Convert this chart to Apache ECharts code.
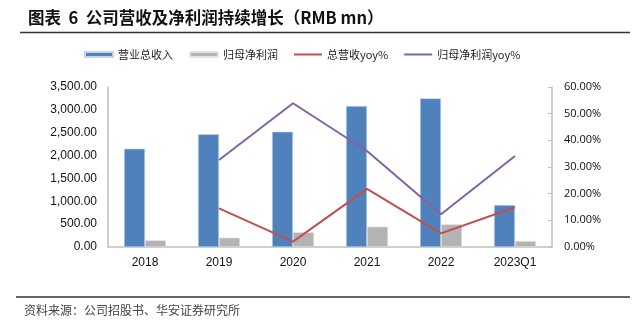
<!DOCTYPE html>
<html>
<head>
<meta charset="utf-8">
<script src="https://cdn.jsdelivr.net/npm/echarts@6/dist/echarts.min.js"></script>
<style>
  html, body { margin: 0; padding: 0; background: #fff; }
  #chart { width: 638px; height: 328px; }
</style>
</head>
<body>
<div id="chart"></div>
<script>
// Years on the category axis
var categories = ['2018', '2019', '2020', '2021', '2022', '2023Q1'];
// Total revenue, RMB mn
var revenue = [2150, 2465, 2522, 3084, 3252, 919];
// Net profit attributable to parent, RMB mn
var netProfit = [147, 204, 321, 445, 496, 131];
// Year-over-year growth, percent
var revenueYoy = [null, 14.5, 2.0, 21.8, 5.1, 14.9];
var profitYoy = [null, 32.6, 53.9, 36.0, 12.3, 34.1];

var leftTicks = { min: 0, max: 3500, interval: 500 };
var rightTicks = { min: 0, max: 60, interval: 10 };

var cjk = '"Noto Sans CJK SC", "Noto Sans", sans-serif';
var latin = '"Liberation Sans", Arial, sans-serif';
// thin bar used as legend key for the growth lines
var lineKey = 'path://M0,0 L28,0 L28,2 L0,2 Z';

function thousands(v) {
  var s = v.toFixed(2);
  var parts = s.split('.');
  parts[0] = parts[0].replace(/\B(?=(\d{3})+(?!\d))/g, ',');
  return parts.join('.');
}

var chart = echarts.init(document.getElementById('chart'), null, { renderer: 'canvas' });

chart.setOption({
  animation: false,
  backgroundColor: '#fff',
  grid: { left: 108, right: 86, top: 87, bottom: 81, containLabel: false },
  legend: {
    left: 84,
    top: 49,
    padding: 0,
    itemWidth: 28,
    itemHeight: 5,
    itemGap: 16,
    textStyle: { fontFamily: cjk, fontSize: 11, color: '#222' },
    data: [
      { name: '营业总收入', icon: 'rect' },
      { name: '归母净利润', icon: 'rect' },
      { name: '总营收yoy%', icon: lineKey },
      { name: '归母净利润yoy%', icon: lineKey }
    ]
  },
  graphic: [
    {
      type: 'text', left: 28, top: 9,
      style: { text: '图表  6  公司营收及净利润持续增长（RMB mn）', fontFamily: cjk, fontSize: 16.5, fontWeight: 'bold', fill: '#111' }
    },
    {
      type: 'line', shape: { x1: 20, y1: 32.5, x2: 630, y2: 32.5 },
      style: { stroke: '#333', lineWidth: 1.5 }
    },
    {
      type: 'line', shape: { x1: 16, y1: 297, x2: 630, y2: 297 },
      style: { stroke: '#333', lineWidth: 1.5 }
    },
    {
      type: 'text', left: 24, top: 304,
      style: { text: '资料来源：公司招股书、华安证券研究所', fontFamily: cjk, fontSize: 12, fill: '#444' }
    }
  ],
  xAxis: {
    type: 'category',
    data: categories,
    axisLine: { lineStyle: { color: '#bfbfbf', width: 1.5 } },
    axisTick: { show: false },
    axisLabel: { fontFamily: latin, fontSize: 12, color: '#111', margin: 10 }
  },
  yAxis: [
    {
      type: 'value',
      min: leftTicks.min, max: leftTicks.max, interval: leftTicks.interval,
      axisLine: { show: true, lineStyle: { color: '#bfbfbf', width: 1.5 } },
      axisTick: { show: false },
      splitLine: { show: false },
      axisLabel: { fontFamily: latin, fontSize: 12, color: '#111', margin: 11, formatter: thousands }
    },
    {
      type: 'value',
      position: 'right',
      min: rightTicks.min, max: rightTicks.max, interval: rightTicks.interval,
      axisLine: { show: true, lineStyle: { color: '#bfbfbf', width: 1.5 } },
      axisTick: { show: true, inside: true, length: 4, lineStyle: { color: '#bfbfbf' } },
      splitLine: { show: false },
      axisLabel: { fontFamily: '"Open Sans", "Liberation Sans", sans-serif', fontSize: 11, color: '#111', margin: 12,
        formatter: function (v) { return v.toFixed(2) + '%'; } }
    }
  ],
  series: [
    {
      name: '营业总收入', type: 'bar', yAxisIndex: 0, data: revenue,
      barWidth: 21, barGap: '0%',
      itemStyle: { color: '#4F81BD', borderColor: '#c6d6ea', borderWidth: 0.6 }
    },
    {
      name: '归母净利润', type: 'bar', yAxisIndex: 0, data: netProfit,
      barWidth: 21, barGap: '0%',
      itemStyle: { color: '#B3B3B3', borderColor: '#e4e4e4', borderWidth: 0.6 }
    },
    {
      name: '总营收yoy%', type: 'line', yAxisIndex: 1, data: revenueYoy,
      symbol: 'none', connectNulls: false,
      lineStyle: { color: '#C0504D', width: 2 }, itemStyle: { color: '#C0504D' }
    },
    {
      name: '归母净利润yoy%', type: 'line', yAxisIndex: 1, data: profitYoy,
      symbol: 'none', connectNulls: false,
      lineStyle: { color: '#8064A2', width: 2 }, itemStyle: { color: '#8064A2' }
    }
  ]
});
</script>
</body>
</html>
